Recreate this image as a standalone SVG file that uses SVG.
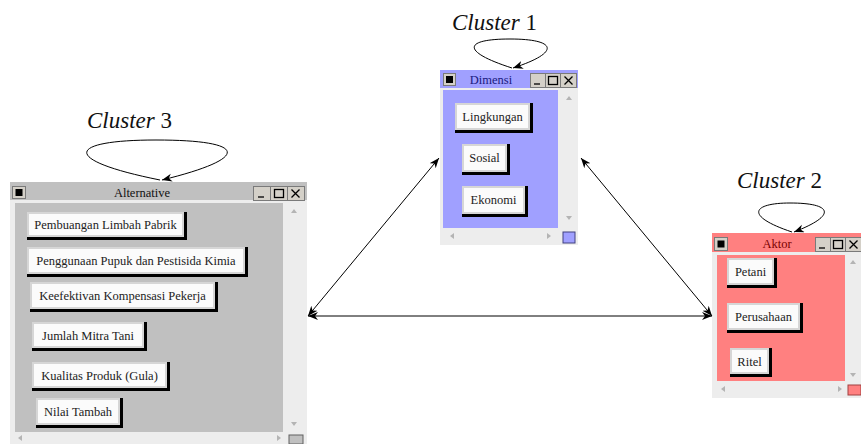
<svg xmlns="http://www.w3.org/2000/svg" width="861" height="444" viewBox="0 0 861 444" font-family="Liberation Serif, DejaVu Serif, serif">
<style>
.cl{font-size:23px;fill:#111}
.bt{font-size:12.5px;fill:#222;text-anchor:middle}
.tt{font-size:12.5px;text-anchor:middle}
.frame{fill:#ededed}
.sh{fill:#000}
.rim{fill:#d6d6d6}
.face{fill:#fbfbfb}
.wb{fill:#d4d0c8;stroke:#7a7a7a;stroke-width:1}
.ico{stroke:#000;stroke-width:1.3;fill:none}
.arr{fill:#b4b4b4}
.con{stroke:#000;stroke-width:1;fill:none}
</style>
<defs>
<marker id="ah" markerUnits="userSpaceOnUse" markerWidth="12" markerHeight="10" refX="10" refY="4" orient="auto-start-reverse">
<path d="M0,0 L10,4 L0,8 L3,4 Z" fill="#000"/>
</marker>
</defs>

<!-- cluster labels -->
<text class="cl" x="452" y="30" font-family="Liberation Serif, serif"><tspan font-style="italic">Cluster</tspan> 1</text>
<text class="cl" x="87" y="128" font-family="Liberation Serif, serif"><tspan font-style="italic">Cluster</tspan> 3</text>
<text class="cl" x="737" y="188" font-family="Liberation Serif, serif"><tspan font-style="italic">Cluster</tspan> 2</text>

<!-- Dimensi window -->
<g id="dimensi">
<rect class="frame" x="440" y="70" width="138" height="175"/>
<rect x="440" y="70" width="138" height="18" fill="#a0a0ff"/>
<rect x="443" y="90" width="115" height="138" fill="#a0a0ff"/>
<rect class="wb" x="443.5" y="73.5" width="12" height="12"/>
<rect x="446" y="76" width="7" height="7" fill="#000"/>
<text class="tt" x="491" y="84" fill="#1a1a80">Dimensi</text>
<rect class="wb" x="530.5" y="73.5" width="15" height="14"/>
<rect class="wb" x="545.5" y="73.5" width="15" height="14"/>
<rect class="wb" x="560.5" y="73.5" width="16" height="14"/>
<line class="ico" x1="534" y1="84" x2="540" y2="84" stroke-width="2"/>
<rect class="ico" x="548.5" y="76.5" width="9" height="8"/>
<path class="ico" d="M564.5,76.5 L572.5,84.5 M572.5,76.5 L564.5,84.5"/>
<path class="arr" d="M566,100 L569,96 L572,100 Z"/>
<path class="arr" d="M566,216 L569,220 L572,216 Z"/>
<path class="arr" d="M454,233 L450,236 L454,239 Z"/>
<path class="arr" d="M547,233 L551,236 L547,239 Z"/>
<rect x="563" y="232" width="12" height="11" fill="#a0a0ff" stroke="#404080" stroke-width="1"/>
</g>

<g id="n-lingkungan"><rect class="sh" x="455" y="103" width="78" height="30"/><rect class="rim" x="455" y="103" width="75" height="27"/><rect class="face" x="457" y="105" width="71" height="23"/><text class="bt" x="492.5" y="121">Lingkungan</text></g>
<g id="n-sosial"><rect class="sh" x="462" y="144" width="48" height="31"/><rect class="rim" x="462" y="144" width="45" height="28"/><rect class="face" x="464" y="146" width="41" height="24"/><text class="bt" x="484.5" y="162">Sosial</text></g>
<g id="n-ekonomi"><rect class="sh" x="462" y="186" width="66" height="31"/><rect class="rim" x="462" y="186" width="63" height="28"/><rect class="face" x="464" y="188" width="59" height="24"/><text class="bt" x="493.5" y="204">Ekonomi</text></g>

<!-- Alternative window -->
<g id="alternative">
<rect class="frame" x="10" y="182" width="297" height="262"/>
<rect x="10" y="182" width="297" height="18" fill="#c0c0c0"/>
<rect x="15" y="203" width="268" height="229" fill="#c0c0c0"/>
<rect class="wb" x="12.5" y="186.5" width="13" height="12"/>
<rect x="15.5" y="189" width="7" height="7" fill="#000"/>
<text class="tt" x="142" y="197" fill="#111">Alternative</text>
<rect class="wb" x="253.5" y="186.5" width="17" height="14"/>
<rect class="wb" x="270.5" y="186.5" width="17" height="14"/>
<rect class="wb" x="287.5" y="186.5" width="17" height="14"/>
<line class="ico" x1="258" y1="197" x2="264" y2="197" stroke-width="2"/>
<rect class="ico" x="274.5" y="189.5" width="9" height="8"/>
<path class="ico" d="M291.5,189.5 L299.5,197.5 M299.5,189.5 L291.5,197.5"/>
<path class="arr" d="M291,213 L294,209 L297,213 Z"/>
<path class="arr" d="M291,422 L294,426 L297,422 Z"/>
<path class="arr" d="M22,435 L18,438 L22,441 Z"/>
<path class="arr" d="M277,435 L281,438 L277,441 Z"/>
<rect x="289" y="435" width="14" height="9" fill="#c0c0c0" stroke="#606060" stroke-width="1"/>
</g>

<g id="n-pembuangan"><rect class="sh" x="27" y="212" width="160" height="28"/><rect class="rim" x="27" y="212" width="157" height="25"/><rect class="face" x="29" y="214" width="153" height="21"/><text class="bt" x="105.5" y="229">Pembuangan Limbah Pabrik</text></g>
<g id="n-penggunaan"><rect class="sh" x="27" y="247" width="221" height="30"/><rect class="rim" x="27" y="247" width="218" height="27"/><rect class="face" x="29" y="249" width="214" height="23"/><text class="bt" x="136" y="265">Penggunaan Pupuk dan Pestisida Kimia</text></g>
<g id="n-keefektivan"><rect class="sh" x="30" y="282" width="188" height="30"/><rect class="rim" x="30" y="282" width="185" height="27"/><rect class="face" x="32" y="284" width="181" height="23"/><text class="bt" x="122.5" y="300">Keefektivan Kompensasi Pekerja</text></g>
<g id="n-jumlah"><rect class="sh" x="32" y="322" width="115" height="29"/><rect class="rim" x="32" y="322" width="112" height="26"/><rect class="face" x="34" y="324" width="108" height="22"/><text class="bt" x="88" y="339.5">Jumlah Mitra Tani</text></g>
<g id="n-kualitas"><rect class="sh" x="32" y="362" width="138" height="29"/><rect class="rim" x="32" y="362" width="135" height="26"/><rect class="face" x="34" y="364" width="131" height="22"/><text class="bt" x="99.5" y="379.5">Kualitas Produk (Gula)</text></g>
<g id="n-nilai"><rect class="sh" x="36" y="398" width="87" height="30"/><rect class="rim" x="36" y="398" width="84" height="27"/><rect class="face" x="38" y="400" width="80" height="23"/><text class="bt" x="78" y="416">Nilai Tambah</text></g>

<!-- Aktor window -->
<g id="aktor">
<rect class="frame" x="712" y="233" width="149" height="165"/>
<rect x="712" y="233" width="149" height="19" fill="#ff8080"/>
<rect x="717" y="255" width="128" height="126" fill="#ff8080"/>
<rect class="wb" x="714.5" y="237.5" width="13" height="13"/>
<rect x="717.5" y="240.5" width="7" height="7" fill="#000"/>
<text class="tt" x="777" y="248" fill="#7a0000">Aktor</text>
<rect class="wb" x="815.5" y="237.5" width="15" height="14"/>
<rect class="wb" x="830.5" y="237.5" width="15" height="14"/>
<rect class="wb" x="845.5" y="237.5" width="16" height="14"/>
<line class="ico" x1="819" y1="248" x2="825" y2="248" stroke-width="2"/>
<rect class="ico" x="833.5" y="240.5" width="9" height="8"/>
<path class="ico" d="M849.5,240.5 L857.5,248.5 M857.5,240.5 L849.5,248.5"/>
<path class="arr" d="M850,264 L853,260 L856,264 Z"/>
<path class="arr" d="M850,373 L853,377 L856,373 Z"/>
<path class="arr" d="M725,386 L721,389 L725,392 Z"/>
<path class="arr" d="M838,386 L842,389 L838,392 Z"/>
<rect x="848" y="385" width="13" height="10" fill="#ff8080" stroke="#a04040" stroke-width="1"/>
</g>

<g id="n-petani"><rect class="sh" x="727" y="258" width="50" height="30"/><rect class="rim" x="727" y="258" width="47" height="27"/><rect class="face" x="729" y="260" width="43" height="23"/><text class="bt" x="750.5" y="276">Petani</text></g>
<g id="n-perusahaan"><rect class="sh" x="727" y="303" width="76" height="30"/><rect class="rim" x="727" y="303" width="73" height="27"/><rect class="face" x="729" y="305" width="69" height="23"/><text class="bt" x="763.5" y="321">Perusahaan</text></g>
<g id="n-ritel"><rect class="sh" x="730" y="348" width="42" height="29"/><rect class="rim" x="730" y="348" width="39" height="26"/><rect class="face" x="732" y="350" width="35" height="22"/><text class="bt" x="749.5" y="365.5">Ritel</text></g>

<!-- connectors -->
<g id="connectors">
<path class="con" marker-end="url(#ah)" d="M512,68 C462,52 462,39 510,39 C556,39 562,52 513,68"/>
<path class="con" marker-end="url(#ah)" d="M160,180 C60,160 66,140 156,140 C248,140 252,158 162,180"/>
<path class="con" marker-end="url(#ah)" d="M792,232 C744,216 752,203 790,203 C832,203 838,215 794,232"/>
<line class="con" marker-start="url(#ah)" marker-end="url(#ah)" x1="308" y1="316" x2="439" y2="158"/>
<line class="con" marker-start="url(#ah)" marker-end="url(#ah)" x1="581" y1="158" x2="712" y2="316"/>
<line class="con" marker-start="url(#ah)" marker-end="url(#ah)" x1="308" y1="316" x2="712" y2="316"/>
</g>
</svg>
